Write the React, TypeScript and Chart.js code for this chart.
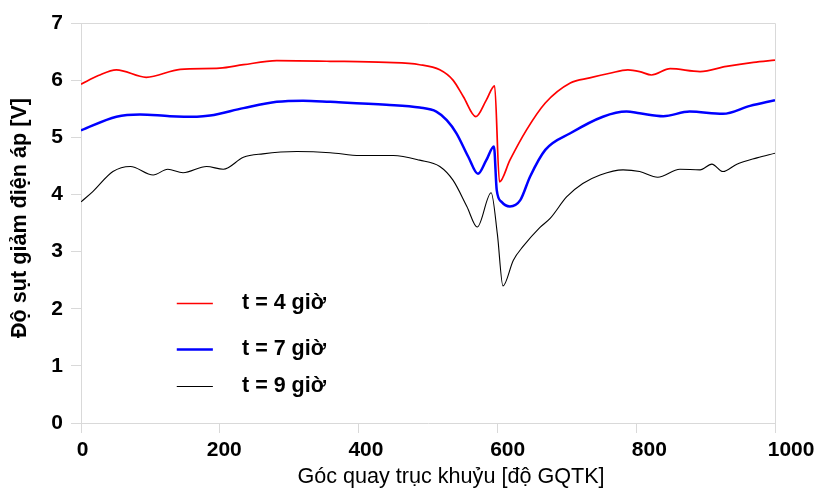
import React, { useEffect, useRef } from "react";
import { Chart, registerables } from "chart.js";

Chart.register(...registerables);

const seriesLabels = ["t = 4 giờ", "t = 7 giờ", "t = 9 giờ"];
const seriesColors = ["#ff0000", "#0000ff", "#000000"];
const seriesWidths = [1.7, 2.5, 1.1];

const angles4 = [0, 25, 51, 94, 143, 200, 234, 282, 359, 440, 488, 517, 536, 551, 569, 584, 596, 603, 618, 642, 669, 705, 733, 762, 788, 805, 822, 849, 892, 930, 969, 1000];
const values4 = [5.93, 6.08, 6.18, 6.05, 6.19, 6.21, 6.27, 6.34, 6.33, 6.31, 6.27, 6.18, 6.0, 5.71, 5.36, 5.65, 5.9, 4.22, 4.6, 5.13, 5.6, 5.95, 6.04, 6.12, 6.18, 6.15, 6.09, 6.2, 6.15, 6.24, 6.31, 6.35];

const angles7 = [0, 51, 85, 128, 167, 186, 234, 282, 320, 359, 440, 488, 512, 527, 541, 558, 572, 584, 595, 599, 606, 618, 633, 647, 669, 705, 752, 786, 805, 839, 877, 925, 964, 1000];
const values7 = [5.12, 5.36, 5.4, 5.37, 5.36, 5.38, 5.51, 5.62, 5.64, 5.62, 5.57, 5.52, 5.45, 5.3, 5.07, 4.66, 4.36, 4.6, 4.84, 4.08, 3.87, 3.79, 3.9, 4.31, 4.78, 5.07, 5.36, 5.45, 5.42, 5.37, 5.45, 5.41, 5.55, 5.65];

const angles9 = [0, 17, 46, 71, 104, 125, 147, 181, 205, 234, 262, 311, 359, 402, 450, 488, 517, 536, 556, 571, 591, 600, 608, 623, 637, 661, 676, 700, 723, 748, 781, 805, 831, 863, 892, 909, 925, 945, 974, 1000];
const values9 = [3.87, 4.05, 4.4, 4.49, 4.34, 4.44, 4.38, 4.49, 4.44, 4.65, 4.71, 4.75, 4.73, 4.68, 4.68, 4.6, 4.49, 4.25, 3.79, 3.43, 4.03, 3.3, 2.4, 2.85, 3.09, 3.42, 3.58, 3.96, 4.19, 4.34, 4.43, 4.4, 4.3, 4.44, 4.43, 4.53, 4.4, 4.53, 4.64, 4.72];

const xTickValues = [0, 200, 400, 600, 800, 1000];
const xTitle = "Góc quay trục khuỷu [độ GQTK]";
const yTitle = "Độ sụt giảm điện áp [V]";

const seriesAngles = [angles4, angles7, angles9];
const seriesValues = [values4, values7, values9];

const FONT = "'Liberation Sans', Arial, sans-serif";

const decorations = {
  id: "decorations",
  afterDraw(chart: any) {
    const { ctx, chartArea } = chart;
    const xs = chart.scales.x;
    const ys = chart.scales.y;
    ctx.save();
    // top and right frame
    ctx.strokeStyle = "#d9d9d9";
    ctx.lineWidth = 1;
    ctx.beginPath();
    ctx.moveTo(chartArea.left, chartArea.top + 0.5);
    ctx.lineTo(chartArea.right + 0.5, chartArea.top + 0.5);
    ctx.lineTo(chartArea.right + 0.5, chartArea.bottom);
    ctx.stroke();

    // x tick labels
    ctx.fillStyle = "#000";
    ctx.font = `bold 21px ${FONT}`;
    ctx.textAlign = "center";
    ctx.textBaseline = "middle";
    xTickValues.forEach((v) => {
      const px = xs.getPixelForValue(v);
      const shift = 1.5 + (px - chartArea.left) * 0.021;
      ctx.fillText(String(v), px + shift, chartArea.bottom + 27);
    });

    // x title
    ctx.font = `21.6px ${FONT}`;
    ctx.fillText(xTitle, (chartArea.left + chartArea.right) / 2 + 23, chartArea.bottom + 54);

    // y title
    ctx.save();
    ctx.translate(20, (chartArea.top + chartArea.bottom) / 2 - 5);
    ctx.rotate(-Math.PI / 2);
    ctx.font = `bold 21.6px ${FONT}`;
    ctx.fillText(yTitle, 0, 0);
    ctx.restore();

    // legend
    const legendAnchors = [2.1, 1.3, 0.65];
    chart.data.datasets.forEach((ds: any, i: number) => {
      const y = Math.round(ys.getPixelForValue(legendAnchors[i])) + 0.5;
      const x0 = xs.getPixelForValue(138);
      const x1 = xs.getPixelForValue(190);
      ctx.strokeStyle = ds.borderColor;
      ctx.lineWidth = ds.borderWidth;
      ctx.beginPath();
      ctx.moveTo(x0, y);
      ctx.lineTo(x1, y);
      ctx.stroke();
      ctx.fillStyle = "#000";
      ctx.font = `bold 21.5px ${FONT}`;
      ctx.textBaseline = "middle";
      ctx.textAlign = "left";
      ctx.fillText(ds.label, xs.getPixelForValue(232), y);
    });
    ctx.restore();
  },
};

export default function App() {
  const ref = useRef<HTMLCanvasElement | null>(null);
  useEffect(() => {
    document.body.style.margin = "0";
    if (!ref.current) return;
    const chart = new Chart(ref.current, {
      type: "line",
      data: {
        datasets: seriesLabels.map((label, i) => ({
          label,
          data: seriesAngles[i].map((a, j) => ({ x: a, y: seriesValues[i][j] })),
          borderColor: seriesColors[i],
          backgroundColor: seriesColors[i],
          borderWidth: seriesWidths[i],
          pointRadius: 0,
          cubicInterpolationMode: "monotone" as const,
          fill: false,
        })),
      },
      options: {
        animation: false,
        responsive: false,
        maintainAspectRatio: false,
        layout: { padding: { top: 23, right: 43, left: 0, bottom: 0 } },
        plugins: { legend: { display: false }, tooltip: { enabled: false } },
        scales: {
          x: {
            type: "linear",
            min: 0,
            max: 1000,
            ticks: { display: false, stepSize: 200 },
            grid: { drawOnChartArea: false, drawTicks: true, tickLength: 10, color: "#d9d9d9" },
            border: { color: "#d9d9d9" },
            title: { display: false },
            afterFit(scale: any) {
              scale.height = 74;
            },
          },
          y: {
            min: 0,
            max: 7,
            ticks: {
              stepSize: 1,
              color: "#000",
              font: { family: FONT, size: 21, weight: "bold" },
              padding: 8,
            },
            grid: { drawOnChartArea: false, drawTicks: true, tickLength: 10, color: "#d9d9d9" },
            border: { color: "#d9d9d9" },
            title: { display: false },
            afterFit(scale: any) {
              scale.width = 81;
            },
          },
        },
      },
      plugins: [decorations],
    });
    return () => chart.destroy();
  }, []);
  return (
    <div style={{ position: "absolute", left: 0, top: 0, width: 818, height: 497 }}>
      <canvas ref={ref} width={818} height={497} style={{ width: 818, height: 497 }} />
    </div>
  );
}
